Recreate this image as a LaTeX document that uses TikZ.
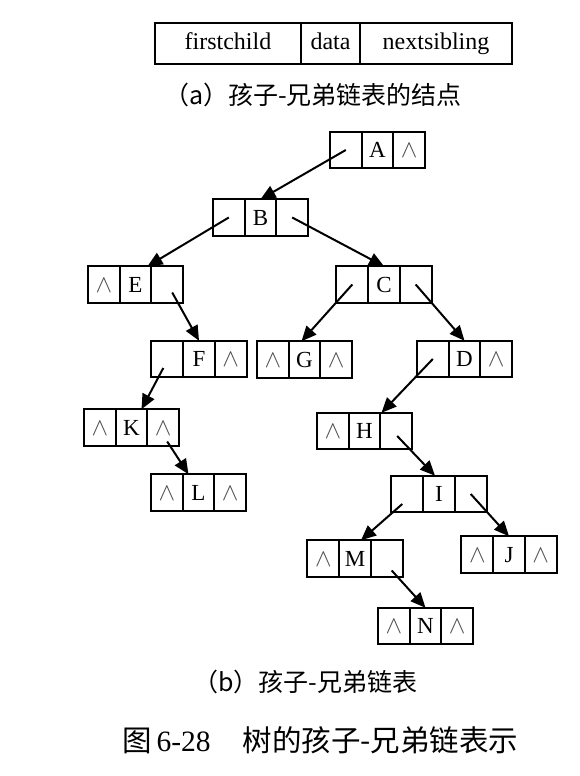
\documentclass[tikz,border=0pt]{standalone}
\usepackage{fontspec}
\setmainfont{Liberation Serif}
\newfontfamily\cjk{Noto Sans CJK SC}
\usetikzlibrary{arrows.meta}
\newcommand\nilp{{\color{black!70}$\wedge$}}
\newcommand\lnode[6]{%
  \node[cell] (#1p) at (#2-31.7,#3) {#4};
  \node[cell] (#1d) at (#2,#3) {#5};
  \node[cell] (#1n) at (#2+31.7,#3) {#6};}
\begin{document}
\begin{tikzpicture}[x=1pt,y=-1pt,
  cell/.style={draw,line width=2pt,minimum width=31.7pt,minimum height=36.5pt,inner sep=0pt,outer sep=0pt,text height=15pt,text depth=0pt,font=\fontsize{23}{26}\selectfont},
  hcell/.style={draw,line width=2pt,minimum height=41pt,inner sep=0pt,outer sep=0pt,text height=16.5pt,text depth=5pt,font=\fontsize{24}{28}\selectfont},
  arr/.style={line width=2pt,-{Triangle[length=15pt,width=13pt]}},
  captext/.style={inner sep=0pt,font=\fontsize{25}{29}\selectfont\cjk}]
\useasboundingbox (0,0) rectangle (579,776);
% header record
\node[hcell,minimum width=146pt] (hfc) at (228,43.5) {firstchild};
\node[hcell,minimum width=59pt] (hdata) at (330.5,43.5) {data};
\node[hcell,minimum width=152pt] (hns) at (436,43.5) {nextsibling};
\node[captext] (capa) at (313,95) {（a）孩子-兄弟链表的结点};
% records
\lnode{A}{377.5}{150}{}{A}{\nilp}
\lnode{B}{260.5}{217.5}{}{B}{}
\lnode{E}{135.5}{284.5}{\nilp}{E}{}
\lnode{C}{384}{284.5}{}{C}{}
\lnode{F}{199}{359}{}{F}{\nilp}
\lnode{G}{304.5}{359.5}{\nilp}{G}{\nilp}
\lnode{D}{464.5}{359}{}{D}{\nilp}
\lnode{K}{131.5}{427.5}{\nilp}{K}{\nilp}
\lnode{H}{364.5}{431}{\nilp}{H}{}
\lnode{L}{198.5}{492.5}{\nilp}{L}{\nilp}
\lnode{I}{439}{494}{}{I}{}
\lnode{M}{355}{558.5}{\nilp}{M}{}
\lnode{J}{509}{554.5}{\nilp}{J}{\nilp}
\lnode{N}{425.5}{626}{\nilp}{N}{\nilp}
% pointers
\draw[arr] (Ap.center) -- (Bd.north);
\draw[arr] (Bp.center) -- ([xshift=12pt]Ed.north);
\draw[arr] (Bn.center) -- (Cd.north);
\draw[arr] ([shift={(5,8)}]En.center) -- (Fd.north);
\draw[arr] (Cp.center) -- ([xshift=-3pt]Gd.north);
\draw[arr] (Cn.center) -- (Dd.north);
\draw[arr] ([shift={(-4,9)}]Fp.center) -- ([xshift=10pt]Kd.north);
\draw[arr] ([shift={(4,14)}]Kn.center) -- ([xshift=-10pt]Ld.north);
\draw[arr] (Dp.center) -- ([xshift=17pt]Hd.north);
\draw[arr] ([shift={(1,5)}]Hn.center) -- ([xshift=-4pt]Id.north);
\draw[arr] ([shift={(-5,10)}]Ip.center) -- ([xshift=6pt]Md.north);
\draw[arr] (In.center) -- (Jd.north);
\draw[arr] ([shift={(5,12)}]Mn.center) -- (Nd.north);
% captions
\node[captext] (capb) at (305.5,682) {（b）孩子-兄弟链表};
\node[captext,anchor=west,font=\fontsize{29.5}{33}\selectfont\cjk] (capfig) at (122,740) {图\,{\rmfamily 6-28}\hspace{32pt}树的孩子-兄弟链表示};
\end{tikzpicture}
\end{document}
